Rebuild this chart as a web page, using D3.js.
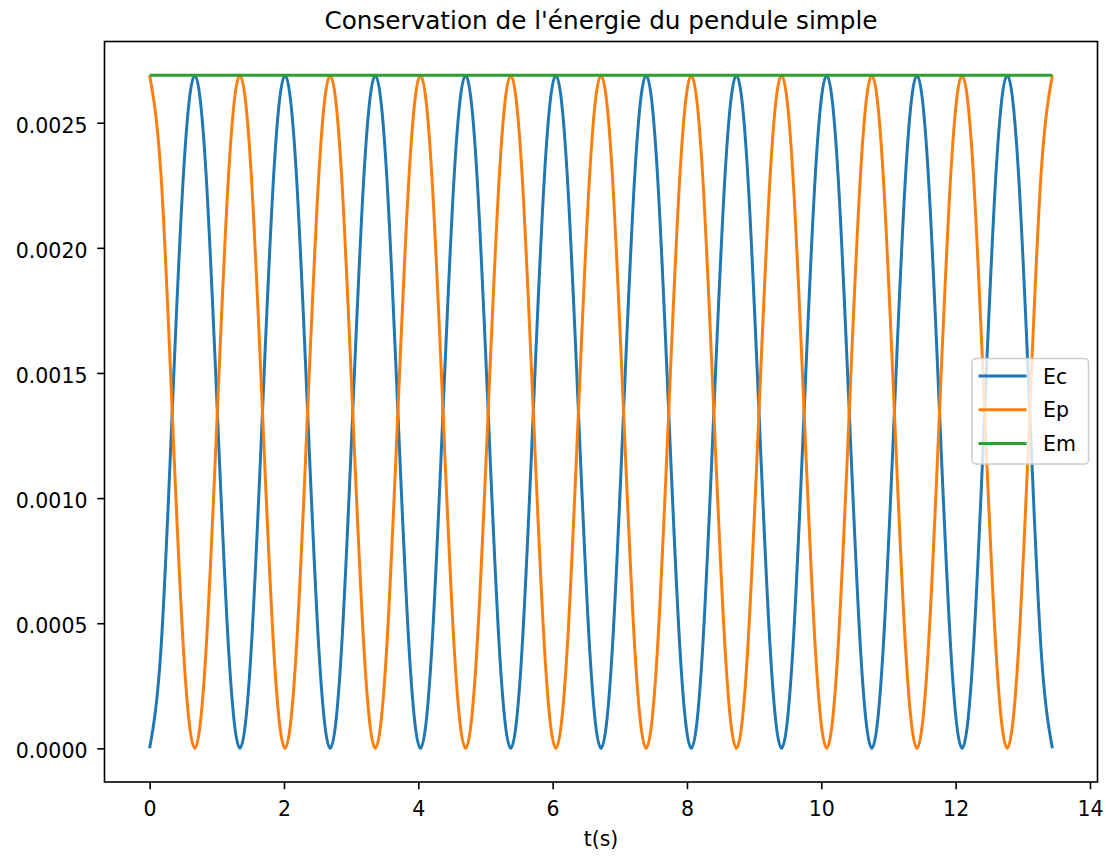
<!DOCTYPE html>
<html>
<head>
<meta charset="utf-8">
<script src="https://cdn.jsdelivr.net/npm/d3@7"></script>
<style>
  body { margin: 0; background: #fff; }
  svg { display: block; font-family: "DejaVu Sans", sans-serif; }
</style>
</head>
<body>
<svg id="chart" width="1106" height="856"></svg>
<script>
// sample times (s), one every eighth of the energy period
const t = [
  0, 0.168, 0.336, 0.504, 0.672, 0.840, 1.008, 1.176,
  1.344, 1.512, 1.680, 1.848, 2.016, 2.184, 2.352, 2.520,
  2.688, 2.856, 3.024, 3.192, 3.360, 3.528, 3.696, 3.864,
  4.032, 4.200, 4.368, 4.536, 4.704, 4.872, 5.040, 5.208,
  5.376, 5.544, 5.712, 5.880, 6.048, 6.216, 6.384, 6.552,
  6.720, 6.888, 7.056, 7.224, 7.392, 7.560, 7.728, 7.896,
  8.064, 8.232, 8.400, 8.568, 8.736, 8.904, 9.072, 9.240,
  9.408, 9.576, 9.744, 9.912, 10.080, 10.248, 10.416, 10.584,
  10.752, 10.920, 11.088, 11.256, 11.424, 11.592, 11.760, 11.928,
  12.096, 12.264, 12.432, 12.600, 12.768, 12.936, 13.104, 13.272,
  13.440];

// kinetic energy (J)
const ec = [
  0, 0.000394, 0.001345, 0.002296, 0.00269, 0.002296, 0.001345, 0.000394,
  0, 0.000394, 0.001345, 0.002296, 0.00269, 0.002296, 0.001345, 0.000394,
  0, 0.000394, 0.001345, 0.002296, 0.00269, 0.002296, 0.001345, 0.000394,
  0, 0.000394, 0.001345, 0.002296, 0.00269, 0.002296, 0.001345, 0.000394,
  0, 0.000394, 0.001345, 0.002296, 0.00269, 0.002296, 0.001345, 0.000394,
  0, 0.000394, 0.001345, 0.002296, 0.00269, 0.002296, 0.001345, 0.000394,
  0, 0.000394, 0.001345, 0.002296, 0.00269, 0.002296, 0.001345, 0.000394,
  0, 0.000394, 0.001345, 0.002296, 0.00269, 0.002296, 0.001345, 0.000394,
  0, 0.000394, 0.001345, 0.002296, 0.00269, 0.002296, 0.001345, 0.000394,
  0, 0.000394, 0.001345, 0.002296, 0.00269, 0.002296, 0.001345, 0.000394,
  0];

// potential energy (J)
const ep = [
  0.00269, 0.002296, 0.001345, 0.000394, 0, 0.000394, 0.001345, 0.002296,
  0.00269, 0.002296, 0.001345, 0.000394, 0, 0.000394, 0.001345, 0.002296,
  0.00269, 0.002296, 0.001345, 0.000394, 0, 0.000394, 0.001345, 0.002296,
  0.00269, 0.002296, 0.001345, 0.000394, 0, 0.000394, 0.001345, 0.002296,
  0.00269, 0.002296, 0.001345, 0.000394, 0, 0.000394, 0.001345, 0.002296,
  0.00269, 0.002296, 0.001345, 0.000394, 0, 0.000394, 0.001345, 0.002296,
  0.00269, 0.002296, 0.001345, 0.000394, 0, 0.000394, 0.001345, 0.002296,
  0.00269, 0.002296, 0.001345, 0.000394, 0, 0.000394, 0.001345, 0.002296,
  0.00269, 0.002296, 0.001345, 0.000394, 0, 0.000394, 0.001345, 0.002296,
  0.00269, 0.002296, 0.001345, 0.000394, 0, 0.000394, 0.001345, 0.002296,
  0.00269];

// mechanical energy (J), flat
const emT = [0, 13.440];
const em = [0.00269, 0.00269];

const xTicks = [0, 2, 4, 6, 8, 10, 12, 14];
const yTicks = [0, 0.0005, 0.0010, 0.0015, 0.0020, 0.0025];

const series = [
  { name: 'Ec', xs: t, ys: ec, color: '#1f77b4' },
  { name: 'Ep', xs: t, ys: ep, color: '#ff7f0e' },
  { name: 'Em', xs: emT, ys: em, color: '#2ca02c' }
];

const box = { left: 104.5, right: 1097.5, top: 41.5, bottom: 782 };
const svg = d3.select('#chart');

// matplotlib-style 5% margins around the data
const tMax = d3.max(t), eMax = d3.max(em);
const x = d3.scaleLinear().domain([-0.05 * tMax, 1.05 * tMax]).range([box.left, box.right]);
const y = d3.scaleLinear().domain([-0.05 * eMax, 1.05 * eMax]).range([box.bottom, box.top]);

svg.append('defs').append('clipPath').attr('id', 'clip')
  .append('rect').attr('x', box.left).attr('y', box.top)
  .attr('width', box.right - box.left).attr('height', box.bottom - box.top);

const line = d3.line().x(d => x(d[0])).y(d => y(d[1])).curve(d3.curveNatural);

const plot = svg.append('g').attr('clip-path', 'url(#clip)');
for (const s of series) {
  plot.append('path')
    .datum(s.xs.map((v, i) => [v, s.ys[i]]))
    .attr('fill', 'none')
    .attr('stroke', s.color)
    .attr('stroke-width', 3)
    .attr('stroke-linejoin', 'round')
    .attr('d', line);
}

// axes
const xAxis = svg.append('g').attr('transform', `translate(0,${box.bottom})`)
  .call(d3.axisBottom(x).tickValues(xTicks).tickFormat(d3.format('d'))
    .tickSize(7.2).tickSizeOuter(0).tickPadding(12.2));
const yAxis = svg.append('g').attr('transform', `translate(${box.left},0)`)
  .call(d3.axisLeft(y).tickValues(yTicks).tickFormat(d3.format('.4f'))
    .tickSize(7.2).tickSizeOuter(0).tickPadding(9.8));

for (const g of [xAxis, yAxis]) {
  g.select('.domain').remove();
  g.selectAll('line').attr('stroke', '#000').attr('stroke-width', 1.6);
  g.selectAll('text').attr('font-size', '20.5px').attr('fill', '#000')
    .attr('font-family', '"DejaVu Sans", sans-serif');
}
yAxis.selectAll('text').attr('dy', '0.46em');

// frame
svg.append('rect')
  .attr('x', box.left).attr('y', box.top)
  .attr('width', box.right - box.left).attr('height', box.bottom - box.top)
  .attr('fill', 'none').attr('stroke', '#000').attr('stroke-width', 1.6);

// title and label
svg.append('text').attr('x', (box.left + box.right) / 2).attr('y', 28.5)
  .attr('text-anchor', 'middle').attr('font-size', '24.7px').attr('fill', '#000')
  .text("Conservation de l'énergie du pendule simple");
svg.append('text').attr('x', (box.left + box.right) / 2).attr('y', 846)
  .attr('text-anchor', 'middle').attr('font-size', '20.5px').attr('fill', '#000')
  .text('t(s)');

// legend
const lg = svg.append('g');
lg.append('rect')
  .attr('x', 972).attr('y', 358.5).attr('width', 116.5).attr('height', 105.5)
  .attr('rx', 4).attr('fill', '#fff').attr('fill-opacity', 0.8)
  .attr('stroke', '#cccccc').attr('stroke-width', 1.5);
series.forEach((s, i) => {
  const ly = 376 + i * 33.8;
  lg.append('line').attr('x1', 978.5).attr('x2', 1026.5).attr('y1', ly).attr('y2', ly)
    .attr('stroke', s.color).attr('stroke-width', 3);
  lg.append('text').attr('x', 1043).attr('y', ly).attr('dy', '0.37em')
    .attr('font-size', '20.5px').attr('fill', '#000').text(s.name);
});
</script>
</body>
</html>
